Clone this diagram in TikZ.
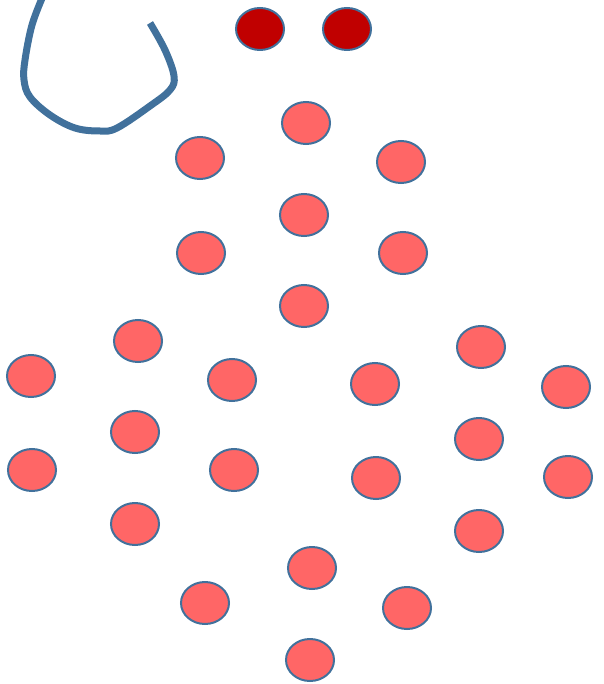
\documentclass[tikz,border=0pt]{standalone}
\usepackage{tikz}
\usetikzlibrary{shapes.geometric}
\definecolor{dotred}{RGB}{255,102,102}
\definecolor{eyered}{RGB}{192,0,0}
\definecolor{rimblue}{RGB}{65,113,156}
\tikzset{
  dot/.style={ellipse, draw=rimblue, fill=dotred, minimum width=48pt, minimum height=42pt,
    inner sep=0pt, line width=2pt},
  eye/.style={dot, fill=eyered},
  hook/.style={draw=rimblue, line width=7pt, line cap=butt, line join=round}
}

\begin{document}
\begin{tikzpicture}[x=1pt, y=-1pt]
  \clip (0,0) rectangle (603,684);
  \useasboundingbox (0,0) rectangle (603,684);
  % hook stroke, top left
  \draw[hook] plot[smooth, tension=0.6] coordinates {(43,-4) (32,25) (25,60) (24,80) (30,97)
    (50,115) (75,128) (100,131) (117,128) (150,106) (170,90) (174,76) (165,50) (150,23)};
  % two dark dots
  \node[eye] (eyeL) at (260,29) {};
  \node[eye] (eyeR) at (347,29) {};
  % light dots
  \foreach \name/\px/\py in {d1/306/123, d2/200/158, d3/401/162, d4/304/215, d5/201/253,
      d6/403/253, d7/304/306, d8/138/341, d9/481/347, d10/31/376, d11/232/380, d12/375/384,
      d13/566/387, d14/135/432, d15/479/439, d16/32/470, d17/234/470, d18/376/478,
      d19/568/477, d20/135/524, d21/479/531, d22/312/568, d23/205/603, d24/407/608,
      d25/310/660}
    \node[dot] (\name) at (\px,\py) {};
\end{tikzpicture}
\end{document}
